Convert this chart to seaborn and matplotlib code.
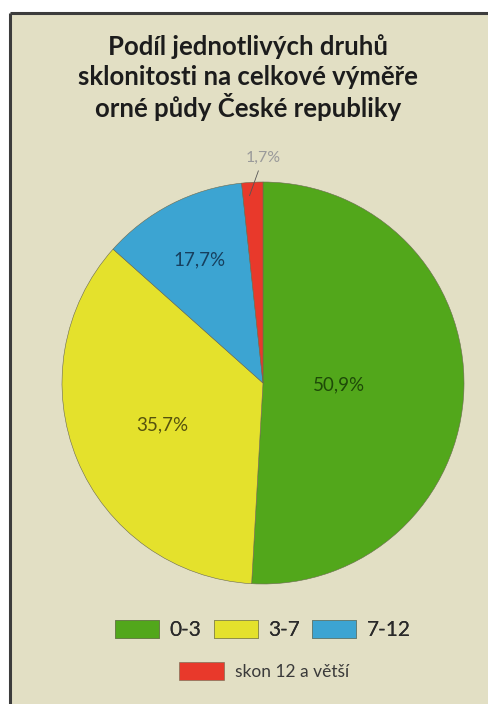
import numpy as np
import matplotlib
matplotlib.use("Agg")
import matplotlib.pyplot as plt
from matplotlib.patches import Rectangle
from matplotlib.lines import Line2D
import seaborn as sns

# ---- data ----
categories = ["0-3", "3-7", "7-12", "skon 12 a větší"]
shares = [50.9, 35.7, 11.7, 1.7]          # slice sizes as drawn
labels = ["50,9%", "35,7%", "17,7%", "1,7%"]  # printed labels
title_lines = ["Podíl jednotlivých druhů",
               "sklonitosti na celkové výměře",
               "orné půdy České republiky"]

colors = ["#52a71b", "#e4e12c", "#3ca4d2", "#e8392b"]
label_colors = ["#1e4a08", "#55520e", "#173f5e", "#9a9a9a"]
label_radius = [0.38, 0.54, 0.69, None]

sns.set_theme(style="white")
plt.rcParams['font.family'] = ['Lato', 'DejaVu Sans']

W, H = 488, 704
fig = plt.figure(figsize=(W / 100, H / 100), dpi=100)
fig.patch.set_facecolor("white")
fig.patch.set_edgecolor("none")
fig.patch.set_linewidth(0)

# beige panel with dark top/left border
bg = "#e2dfc4"
top = 1 - 13 / H
left = 10 / W
fig.add_artist(Rectangle((left, -0.01), 1.02 - left, top + 0.01,
                         transform=fig.transFigure, facecolor=bg,
                         edgecolor="none", linewidth=0, zorder=0))
fig.add_artist(Line2D([left, 1.01], [top, top], transform=fig.transFigure,
                      color="#3c3c3c", lw=2.2, solid_capstyle="butt"))
fig.add_artist(Line2D([left, left], [-0.01, top], transform=fig.transFigure,
                      color="#3c3c3c", lw=2.2, solid_capstyle="butt"))

# title
for i, line in enumerate(title_lines):
    fig.text(248 / W, 1 - (47 + i * 30) / H, line, ha="center", va="center",
             fontsize=18.5, fontweight="bold", color="#1c1c1c")

# pie axes
cx, cy, r = 263, 383, 201
ax = fig.add_axes([(cx - r) / W, 1 - (cy + r) / H, 2 * r / W, 2 * r / H])
ax.set_facecolor("none")
wedges, _ = ax.pie(shares, colors=colors, startangle=90, counterclock=False,
                   radius=1.0, wedgeprops=dict(edgecolor="#6a6a50", linewidth=0.4))
ax.set_xlim(-1, 1)
ax.set_ylim(-1, 1)
ax.set_aspect("equal")
ax.axis("off")

for w, lab, col, rad in zip(wedges, labels, label_colors, label_radius):
    mid = np.deg2rad((w.theta1 + w.theta2) / 2)
    if rad is not None:
        ax.text(rad * np.cos(mid), rad * np.sin(mid), lab, ha="center", va="center",
                fontsize=13.5, color=col)
    else:
        ax.annotate(lab, xy=(0.97 * np.cos(mid) - 0.02, 0.92 * np.sin(mid)),
                    xytext=(0.0, 1.12), textcoords="data",
                    ha="center", va="center", fontsize=11.5, color=col,
                    arrowprops=dict(arrowstyle="-", color="#555555", lw=0.6))

# legends
leg1 = fig.legend(wedges[:3], categories[:3], ncol=3, loc="center",
                  bbox_to_anchor=(263 / W, 1 - 630 / H), frameon=False,
                  fontsize=15, handlelength=2.1, handleheight=0.95,
                  handletextpad=0.5, columnspacing=0.6, borderpad=0)
for t in leg1.get_texts():
    t.set_color("#2a2a2a")
leg2 = fig.legend(wedges[3:], categories[3:], loc="center",
                  bbox_to_anchor=(264 / W, 1 - 671 / H), frameon=False,
                  fontsize=12.5, handlelength=2.6, handleheight=1.2,
                  handletextpad=0.6, borderpad=0)
for t in leg2.get_texts():
    t.set_color("#3a3a3a")
fig.add_artist(leg1)

fig.savefig("out.png", dpi=100, facecolor=fig.get_facecolor())
